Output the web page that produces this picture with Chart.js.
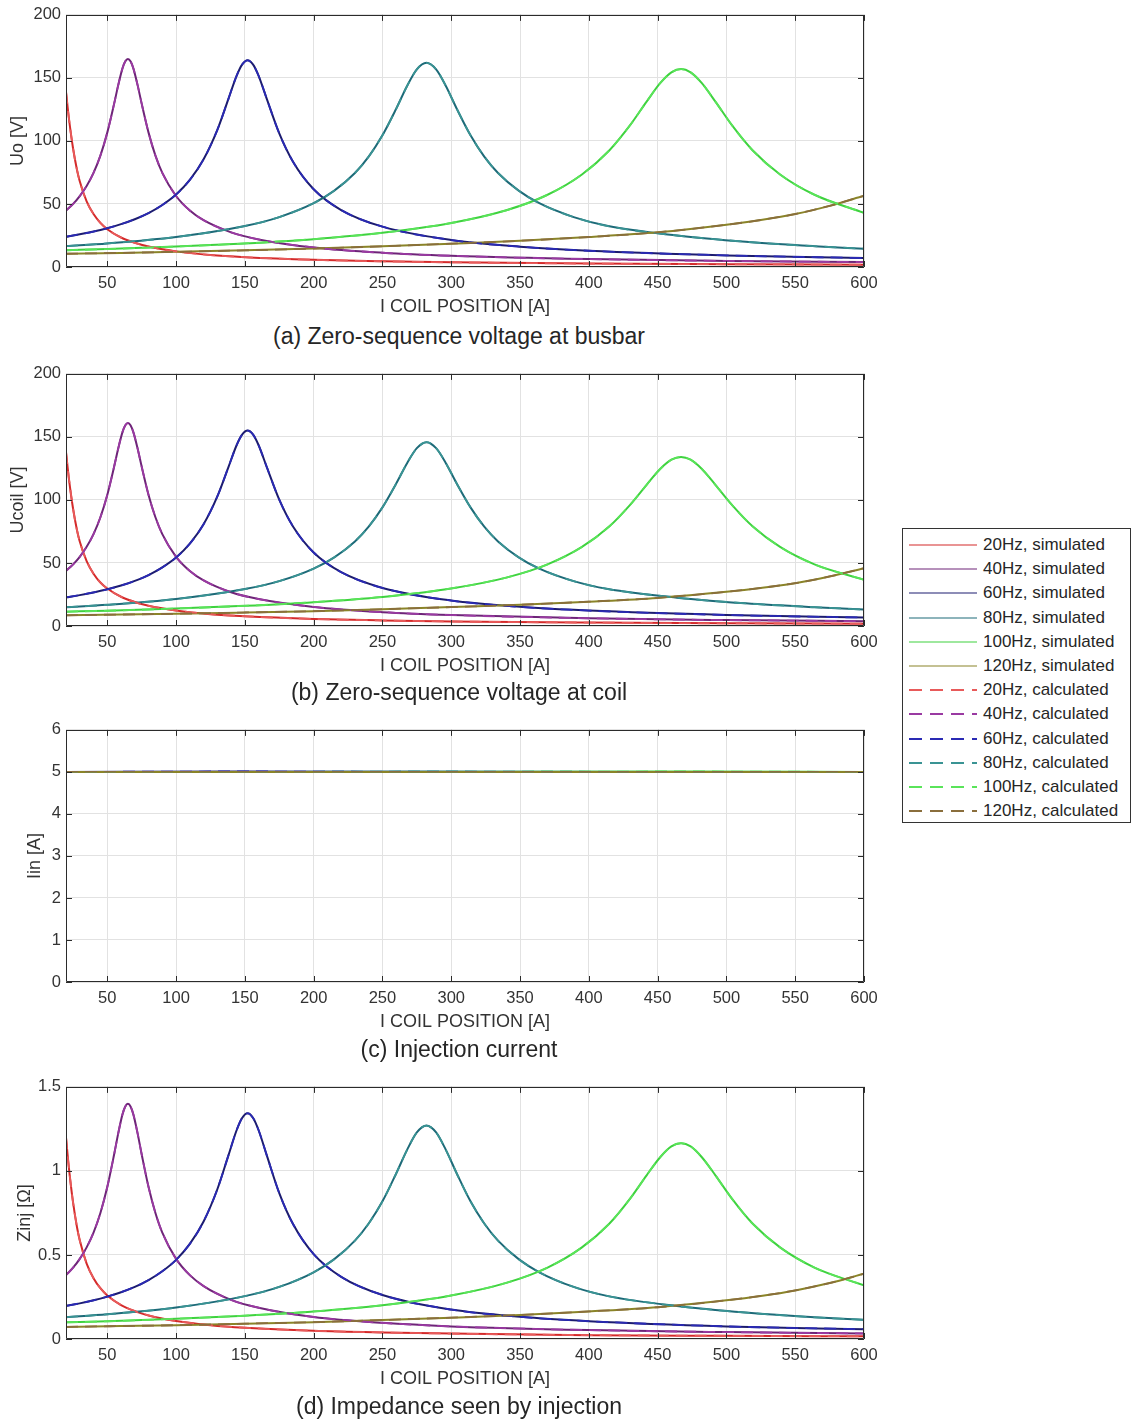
<!DOCTYPE html>
<html><head><meta charset="utf-8">
<script src="https://cdn.jsdelivr.net/npm/chart.js@4"></script>
<style>
body{margin:0;background:#fff;width:1132px;height:1422px;position:relative;overflow:hidden;font-family:"Liberation Sans",Arial,sans-serif;}
.panel{position:absolute;left:0;width:900px;height:322px;}
.caption{position:absolute;left:0;width:918px;text-align:center;font-size:23px;color:#262626;line-height:26px;}
#legend{position:absolute;left:902px;top:528px;width:229px;height:295px;border:1px solid #333;box-sizing:border-box;background:#fff;}
.lrow{position:absolute;left:0;height:24px;width:229px;}
.lrow svg{position:absolute;left:6px;top:0;}
.lrow span{position:absolute;left:80px;top:2px;font-size:17px;line-height:20px;color:#262626;white-space:nowrap;}
</style></head><body>
<div class="panel" style="top:0px"><canvas id="cA" width="900" height="322"></canvas></div>
<div class="panel" style="top:359px"><canvas id="cB" width="900" height="322"></canvas></div>
<div class="panel" style="top:715px"><canvas id="cC" width="900" height="322"></canvas></div>
<div class="panel" style="top:1072px"><canvas id="cD" width="900" height="322"></canvas></div>
<div class="caption" style="top:323px">(a) Zero-sequence voltage at busbar</div>
<div class="caption" style="top:679px">(b) Zero-sequence voltage at coil</div>
<div class="caption" style="top:1036px">(c) Injection current</div>
<div class="caption" style="top:1393px">(d) Impedance seen by injection</div>
<div id="legend"></div>
<script>
// ---------- data ----------
const frequencies = ['20Hz','40Hz','60Hz','80Hz','100Hz','120Hz'];
const xTicks = [50,100,150,200,250,300,350,400,450,500,550,600];
const uTicks = [0,50,100,150,200];
const iTicks = [0,1,2,3,4,5,6];
const zTicks = [0,0.5,1,1.5];

// coil position samples for each frequency
const x20  = [20,22,25,28,30,35,40,45,50,60,70,80,100,125,150,200,250,300,400,500,600];
const x40  = [20,25,30,35,40,45,50,55,58,61,63,65,67,69,72,75,80,85,90,100,110,120,140,160,200,250,300,400,500,600];
const x60  = [20,30,40,50,60,70,80,90,100,110,120,130,138,144,148,152,156,160,166,175,185,200,220,250,300,350,400,500,600];
const x80  = [20,50,100,150,175,200,215,230,240,250,260,268,275,282,289,296,304,314,324,334,349,364,389,414,464,514,564,600];
const x100 = [20,50,100,150,200,250,300,340,370,395,415,430,442,452,460,467,474,482,492,504,519,539,564,600];
const x120 = [20,60,100,150,200,250,300,350,400,450,500,525,550,575,600];

// (a) Uo [V]
const uo20  = [139,119,95,77,68,52,42,35,30,23.4,19.2,16.2,12.4,9.5,7.8,5.7,4.5,3.7,2.7,2.2,1.8];
const uo40  = [44.8,49.9,56.3,64.3,74.7,88.4,106.6,129.6,144.5,157.4,163,165,163,157.4,144.5,129.6,106.6,88.4,74.7,56.3,44.8,37.1,27.5,21.9,15.5,11.3,8.9,6.25,4.82,3.92];
const uo60  = [24,25.9,28.1,30.8,34,37.9,42.8,49.2,57.5,69.1,85.4,108.8,133.2,151.7,160.6,164,160.6,151.7,133.2,106,83.5,61.7,45.2,32,21.4,16.1,12.9,9.2,7.1];
const uo80  = [16.6,18.7,23.8,32.5,39.6,50.6,60.6,74.6,87.6,104.5,125.6,143.8,156.8,162,156.8,143.8,125.6,104.5,87.6,74.6,60.6,50.6,39.6,32.5,25,20,16.5,14.5];
const uo100 = [13.3,14.2,16.2,18.7,22.1,27.1,34.9,45,57.3,73.4,92.6,112.5,131.2,146,154.4,157,154.4,146,131.2,112.5,92.6,73.4,57.3,43];
const uo120 = [10.5,11.2,12,13.2,14.6,16.4,18.5,20.8,23.8,27.5,33.5,37.3,42,48.5,56.5];

// (b) Ucoil [V]
const uc20  = [138,118,94,76,67,51.5,41.5,34.5,29.7,23.2,19,16,12.3,9.4,7.7,5.6,4.4,3.6,2.7,2.1,1.8];
const uc40  = [43.7,48.7,54.9,62.8,72.9,86.3,104,126.5,141,153.6,159.1,161,159.1,153.6,141,126.5,104,86.3,72.9,54.9,43.7,36.2,26.8,21.4,15.1,11,8.7,6.1,4.7,3.8];
const uc60  = [22.7,24.5,26.6,29.1,32.1,35.8,40.4,46.5,54.3,65.3,80.7,102.8,125.9,143.4,151.8,155,151.8,143.4,125.9,100.2,78.9,58.3,42.7,30.2,20.2,15.2,12.2,8.7,6.7];
const uc80  = [14.9,16.8,21.4,29.3,35.6,45.5,54.5,67.1,78.8,94.1,113,129.4,141.1,145.8,141.1,129.4,113,94.1,78.8,67.1,54.5,45.5,35.6,29.3,22.5,18,14.9,13.1];
const uc100 = [11.4,12.1,13.8,16,18.9,23.1,29.8,38.4,48.9,62.7,79.1,96.1,112,124.7,131.9,134.1,131.9,124.7,112,96.1,79.1,62.7,48.9,36.7];
const uc120 = [8.5,9.1,9.7,10.7,11.8,13.3,15,16.8,19.3,22.3,27.1,30.2,34,39.3,45.8];

// (c) Iin [A]
const xIin   = [20,150,282,467,600];
const iin20  = [5,5,5,5,5];
const iin40  = [5,5,5,5,5];
const iin60  = [5,5.01,5,5,5];
const iin80  = [5,5,5.01,5,5];
const iin100 = [5,5,5,5.01,5];
const iin120 = [5,5,5,5,5];

// (d) Zinj [Ohm]
const zi20  = [1.2,1.027,0.82,0.665,0.587,0.449,0.362,0.302,0.259,0.202,0.166,0.14,0.107,0.082,0.067,0.049,0.039,0.032,0.023,0.019,0.016];
const zi40  = [0.38,0.423,0.477,0.545,0.633,0.75,0.904,1.099,1.225,1.335,1.382,1.399,1.382,1.335,1.225,1.099,0.904,0.75,0.633,0.477,0.38,0.315,0.233,0.186,0.131,0.096,0.075,0.053,0.041,0.033];
const zi60  = [0.197,0.212,0.23,0.252,0.278,0.31,0.351,0.403,0.471,0.566,0.699,0.891,1.091,1.242,1.315,1.343,1.315,1.242,1.091,0.868,0.684,0.505,0.37,0.262,0.175,0.132,0.106,0.075,0.058];
const zi80  = [0.13,0.147,0.187,0.255,0.31,0.397,0.475,0.585,0.687,0.819,0.985,1.127,1.229,1.27,1.229,1.127,0.985,0.819,0.687,0.585,0.475,0.397,0.31,0.255,0.196,0.157,0.129,0.114];
const zi100 = [0.099,0.105,0.12,0.139,0.164,0.201,0.259,0.334,0.425,0.545,0.687,0.835,0.974,1.083,1.146,1.165,1.146,1.083,0.974,0.835,0.687,0.545,0.425,0.319];
const zi120 = [0.072,0.077,0.082,0.091,0.1,0.113,0.127,0.143,0.164,0.189,0.23,0.256,0.289,0.333,0.388];

// ---------- styles ----------
const simColors  = ['#d42a2a','#6e2478','#1c1c70','#1d6a78','#3ed23e','#8a8428'];
const calcColors = ['#e85a5a','#9a3aa2','#2a2ab4','#3a9494','#5ae45a','#8a6e3c'];
const FONT = '"Liberation Sans", Arial, sans-serif';
const TXT = '#333';

const xs = [x20,x40,x60,x80,x100,x120];
const panels = [
  {id:'cA', ys:[uo20,uo40,uo60,uo80,uo100,uo120], xs:xs, ticks:uTicks, label:'Uo [V]', tpad:7},
  {id:'cB', ys:[uc20,uc40,uc60,uc80,uc100,uc120], xs:xs, ticks:uTicks, label:'Ucoil [V]', tpad:7},
  {id:'cC', ys:[iin20,iin40,iin60,iin80,iin100,iin120], xs:[xIin,xIin,xIin,xIin,xIin,xIin], ticks:iTicks, label:'Iin [A]', tpad:24},
  {id:'cD', ys:[zi20,zi40,zi60,zi80,zi100,zi120], xs:xs, ticks:zTicks, label:'Zinj [\u03A9]', tpad:14}
];

const boxPlugin = {
  id:'matlabBox',
  afterDatasetsDraw(chart){
    const {ctx, chartArea:a, scales:{x,y}} = chart;
    ctx.save();
    ctx.strokeStyle = '#2b2b2b'; ctx.lineWidth = 1;
    ctx.beginPath();
    ctx.rect(Math.round(a.left)+0.5, Math.round(a.top)+0.5, Math.round(a.right-a.left)-1, Math.round(a.bottom-a.top)-1);
    const L = 6;
    x.ticks.forEach(t=>{ const p=Math.round(x.getPixelForValue(t.value))+0.5;
      ctx.moveTo(p,a.bottom); ctx.lineTo(p,a.bottom-L); ctx.moveTo(p,a.top); ctx.lineTo(p,a.top+L); });
    y.ticks.forEach(t=>{ const p=Math.round(y.getPixelForValue(t.value))+0.5;
      ctx.moveTo(a.left,p); ctx.lineTo(a.left+L,p); ctx.moveTo(a.right,p); ctx.lineTo(a.right-L,p); });
    ctx.stroke(); ctx.restore();
  }
};

panels.forEach(pn=>{
  const datasets = [];
  const n = frequencies.length;
  frequencies.forEach((f,i)=>{
    datasets.push({label:f+', simulated', data:pn.xs[i].map((xv,k)=>({x:xv,y:pn.ys[i][k]})),
      borderColor:simColors[i], borderWidth:2, pointRadius:0, cubicInterpolationMode:'monotone',
      fill:false, order: 2*n - i});
  });
  frequencies.forEach((f,i)=>{
    datasets.push({label:f+', calculated', data:pn.xs[i].map((xv,k)=>({x:xv,y:pn.ys[i][k]})),
      borderColor:calcColors[i], borderWidth:1.8, borderDash:[12,7], pointRadius:0, cubicInterpolationMode:'monotone',
      fill:false, order: n - i});
  });
  const tks = pn.ticks;
  new Chart(document.getElementById(pn.id), {
    type:'line',
    data:{datasets},
    options:{
      responsive:false, animation:false, devicePixelRatio:1,
      layout:{padding:{left:0,right:36,top:12,bottom:0}},
      plugins:{legend:{display:false}, tooltip:{enabled:false}},
      scales:{
        x:{type:'linear', min:20, max:600,
          afterBuildTicks:s=>{ s.ticks = xTicks.map(v=>({value:v})); },
          afterFit:s=>{ s.height = 55; },
          grid:{color:'#e2e2e2', drawTicks:false, tickLength:0},
          border:{display:false},
          ticks:{font:{size:16.5,family:FONT}, color:TXT, padding:7, maxRotation:0, autoSkip:false, callback:v=>String(v)},
          title:{display:true, text:'I COIL POSITION [A]', font:{size:18,family:FONT}, color:TXT, padding:{top:0,bottom:4}}
        },
        y:{type:'linear', min:tks[0], max:tks[tks.length-1],
          afterBuildTicks:s=>{ s.ticks = tks.map(v=>({value:v})); },
          afterFit:s=>{ s.width = 66; },
          grid:{color:'#e2e2e2', drawTicks:false, tickLength:0},
          border:{display:false},
          ticks:{font:{size:16.5,family:FONT}, color:TXT, padding:5, autoSkip:false, callback:v=>String(v)},
          title:{display:true, text:pn.label, font:{size:18,family:FONT}, color:TXT, padding:{top:pn.tpad,bottom:0}}
        }
      }
    },
    plugins:[boxPlugin]
  });
});

// ---------- legend ----------
const legend = document.getElementById('legend');
const legendItems = [];
frequencies.forEach((f,i)=>legendItems.push({text:f+', simulated', color:simColors[i], dash:null}));
frequencies.forEach((f,i)=>legendItems.push({text:f+', calculated', color:calcColors[i], dash:'13 8'}));
legendItems.forEach((it,i)=>{
  const row = document.createElement('div');
  row.className = 'lrow';
  row.style.top = (4 + i*24.2) + 'px';
  const dashAttr = it.dash ? ` stroke-dasharray="${it.dash}"` : '';
  const w = it.dash ? 2 : 1.2;
  row.innerHTML = `<svg width="70" height="24"><line x1="0" y1="12" x2="68" y2="12" stroke="${it.color}" stroke-width="${w}"${dashAttr}/></svg><span>${it.text}</span>`;
  legend.appendChild(row);
});
</script>
</body></html>
